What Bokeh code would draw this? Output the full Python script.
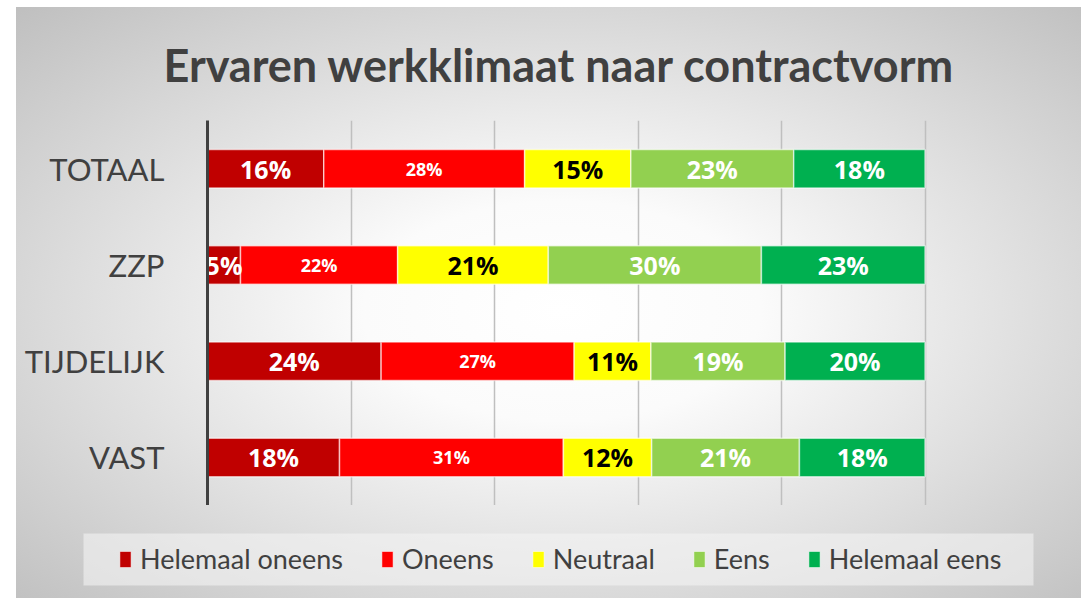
from bokeh.plotting import figure
from bokeh.models import ColumnDataSource, FixedTicker, Legend
from bokeh.layouts import column
from bokeh.core.properties import value
from bokeh.embed import file_html
from bokeh.resources import INLINE

categories = ["TOTAAL", "ZZP", "TIJDELIJK", "VAST"]
series = ["Helemaal oneens", "Oneens", "Neutraal", "Eens", "Helemaal eens"]
colors = ["#C00000", "#FF0000", "#FFFF00", "#92D050", "#00B050"]
label_colors = ["white", "white", "black", "white", "white"]

helemaal_oneens = [0.162, 0.046, 0.242, 0.184]
oneens = [0.280, 0.219, 0.269, 0.312]
neutraal = [0.148, 0.210, 0.107, 0.123]
eens = [0.227, 0.297, 0.187, 0.206]
helemaal_eens = [0.183, 0.228, 0.195, 0.175]

labels_ho = ["16%", "5%", "24%", "18%"]
labels_o = ["28%", "22%", "27%", "31%"]
labels_n = ["15%", "21%", "11%", "12%"]
labels_e = ["23%", "30%", "19%", "21%"]
labels_he = ["18%", "23%", "20%", "18%"]

grid_ticks = [0.0, 0.2, 0.4, 0.6, 0.8, 1.0, 1.2]

FONT = "Lato"
GREY = "#404040"

cols = ["ho", "o", "n", "e", "he"]
vals = [helemaal_oneens, oneens, neutraal, eens, helemaal_eens]
labs = [labels_ho, labels_o, labels_n, labels_e, labels_he]

data = {"cat": categories}
for c, v in zip(cols, vals):
    data[c] = v
source = ColumnDataSource(data)

p = figure(
    y_range=list(reversed(categories)),
    x_range=(0, 1.2),
    width=1081, height=505,
    output_backend="svg", toolbar_location=None,
    min_border_left=207, min_border_right=13,
    min_border_top=120, min_border_bottom=0,
)
p.frame_align = False
p.background_fill_alpha = 0
p.border_fill_alpha = 0
p.outline_line_color = None

renderers = p.hbar_stack(cols, y="cat", height=0.4, color=colors, source=source,
                         line_color="white", line_alpha=0.6, line_width=1.5)

# labels centred in each segment
left = [0.0] * len(categories)
for i, (v, lab) in enumerate(zip(vals, labs)):
    centers = [l + x / 2 for l, x in zip(left, v)]
    left = [l + x for l, x in zip(left, v)]
    s = ColumnDataSource({"x": centers, "y": categories, "t": lab})
    p.text(x="x", y="y", text="t", source=s,
           text_font=value("Open Sans"), text_font_style="bold",
           text_font_size="18px" if i == 1 else "25px",
           text_color=label_colors[i], text_align="center", text_baseline="middle")

p.xaxis.visible = False
p.xgrid.ticker = FixedTicker(ticks=grid_ticks)
p.xgrid.grid_line_color = "#bfbfbf"
p.xgrid.grid_line_width = 1.5
p.ygrid.grid_line_color = None

ax = p.yaxis[0]
ax.axis_line_color = GREY
ax.axis_line_width = 3
ax.major_tick_line_color = None
ax.minor_tick_line_color = None
ax.major_label_text_font = FONT
ax.major_label_text_font_size = "31px"
ax.major_label_text_color = GREY
ax.major_label_standoff = 37

p.title.text = "Ervaren werkklimaat naar contractvorm"
p.title.text_font = FONT
p.title.text_font_style = "bold"
p.title.text_font_size = "45px"
p.title.text_color = GREY
p.title.align = "left"
p.title.offset = -44
p.title.standoff = 58

# legend strip: a second figure whose frame is the legend box
lg = figure(width=1081, height=93, output_backend="svg", toolbar_location=None,
            x_range=(0, 1), y_range=(0, 1),
            min_border_left=83, min_border_right=48, min_border_top=28, min_border_bottom=13)
lg.frame_align = False
lg.axis.visible = False
lg.grid.visible = False
lg.background_fill_color = "#f4f4f4"
lg.background_fill_alpha = 0.6
lg.border_fill_alpha = 0
lg.outline_line_color = None
far = ColumnDataSource({"x": [-10], "y": [-10]})
lg_renderers = [lg.rect(x="x", y="y", width=0.01, height=0.1, source=far,
                        fill_color=c, line_color="white", line_alpha=0.5, line_width=1)
                for c in colors]

legend = Legend(items=[(s, [r]) for s, r in zip(series, lg_renderers)],
                orientation="horizontal", location=(35, 10))
legend.label_text_font = FONT
legend.label_text_font_size = "27px"
legend.label_text_color = GREY
legend.glyph_width = 14
legend.glyph_height = 20
legend.label_standoff = 8
legend.spacing = 37
legend.padding = 0
legend.margin = 0
legend.background_fill_alpha = 0
legend.border_line_color = None
lg.add_layout(legend, "center")

layout = column(p, lg, spacing=0)
layout.styles = {"background": "linear-gradient(to right, #ffffff 16px, rgba(255,255,255,0) 16px), "
                               "linear-gradient(to bottom, #ffffff 7px, rgba(255,255,255,0) 7px), "
                               "radial-gradient(ellipse farthest-corner at 52% 52%, #ffffff 0%, #fbfbfb 25%, #bdbdbd 100%)"}

open("out.html", "w").write(file_html(layout, INLINE))
